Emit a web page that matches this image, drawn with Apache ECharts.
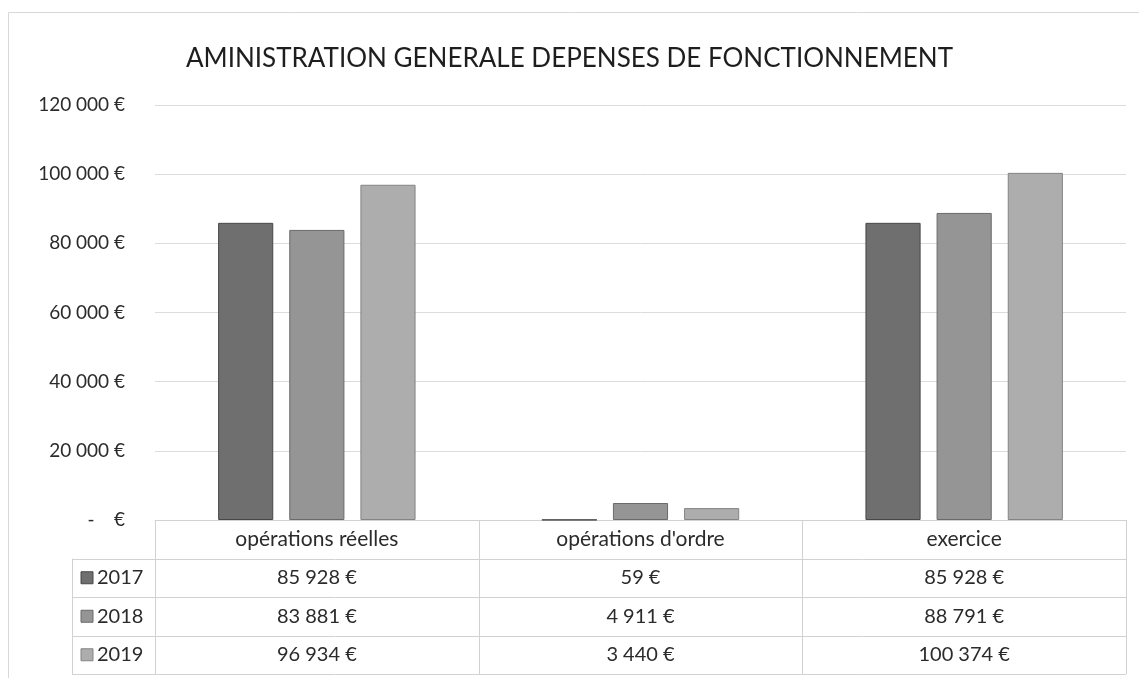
<!DOCTYPE html>
<html>
<head>
<meta charset="utf-8">
<script src="https://cdn.jsdelivr.net/npm/echarts@6/dist/echarts.min.js"></script>
<style>
  html, body { margin: 0; padding: 0; background: #fff; }
  #chart { width: 1139px; height: 678px; }
</style>
</head>
<body>
<div id="chart"></div>
<script>
// données
var categories = ['opérations réelles', "opérations d'ordre", 'exercice'];
var years = ['2017', '2018', '2019'];
var values2017 = [85928, 59, 85928];
var values2018 = [83881, 4911, 88791];
var values2019 = [96934, 3440, 100374];
var yMin = 0, yMax = 120000, yStep = 20000;

var seriesValues = [values2017, values2018, values2019];
var fills = ['#6f6f6f', '#959595', '#adadad'];
var borders = ['#474747', '#6a6a6a', '#848484'];
var font = 'Lato, "Open Sans", sans-serif';
var textColor = '#2b2b2b';
var lineColor = '#d2d2d2';

var gridLeft = 155, gridRight = 13, gridTop = 105, gridBottom = 158;
var legendLeft = 72;
var rowH = 38.5;

function euro(v) {
    if (v === 0) return '-    €';
    return String(v).replace(/\B(?=(\d{3})+(?!\d))/g, ' ') + ' €';
}

var myChart = echarts.init(document.getElementById('chart'));

var series = years.map(function (y, i) {
    return {
        name: y,
        type: 'bar',
        data: seriesValues[i],
        barGap: '29%',
        barCategoryGap: '39%',
        itemStyle: { color: fills[i], borderColor: borders[i], borderWidth: 1 },
        silent: true
    };
});

var option = {
    backgroundColor: '#fff',
    animation: false,
    title: {
        //titre
        text: 'AMINISTRATION GENERALE DEPENSES DE FONCTIONNEMENT',
        left: 'center',
        top: 41,
        textStyle: { fontFamily: font, fontSize: 26, fontWeight: 'normal', color: '#1e1e1e' }
    },
    grid: { left: gridLeft, right: gridRight, top: gridTop, bottom: gridBottom },
    xAxis: {
        type: 'category',
        data: categories,
        axisLine: { lineStyle: { color: lineColor } },
        axisTick: { show: false },
        axisLabel: { margin: 8, fontFamily: font, fontSize: 21, color: textColor, lineHeight: 22 }
    },
    yAxis: {
        type: 'value',
        min: yMin,
        max: yMax,
        interval: yStep,
        axisLine: { show: false },
        axisTick: { show: false },
        splitLine: { lineStyle: { color: '#dcdcdc' } },
        axisLabel: { margin: 30, fontFamily: font, fontSize: 19, color: textColor, formatter: euro }
    },
    series: series
};
myChart.setOption(option);

// tableau de données sous le graphique
var chartW = myChart.getWidth();
var chartH = myChart.getHeight();
var x0 = gridLeft, x3 = chartW - gridRight;
var catW = (x3 - x0) / categories.length;
var tableTop = chartH - gridBottom;
var tableBottom = tableTop + rowH * (years.length + 1);
var g = [];

function hline(y, xa, xb) {
    g.push({ type: 'line', shape: { x1: xa, y1: y, x2: xb, y2: y }, style: { stroke: lineColor, lineWidth: 1 } });
}
function vline(x, ya, yb) {
    g.push({ type: 'line', shape: { x1: x, y1: ya, x2: x, y2: yb }, style: { stroke: lineColor, lineWidth: 1 } });
}

for (var r = 1; r <= years.length + 1; r++) {
    hline(Math.round(tableTop + rowH * r) + 0.5, legendLeft, x3);
}
for (var c = 0; c <= categories.length; c++) {
    vline(Math.round(x0 + catW * c) + 0.5, tableTop, tableBottom);
}
vline(legendLeft + 0.5, tableTop + rowH, tableBottom);

years.forEach(function (y, i) {
    var cy = tableTop + rowH * (i + 1) + rowH / 2;
    g.push({ type: 'rect', shape: { x: 81, y: cy - 6, width: 12, height: 12 },
        style: { fill: fills[i], stroke: borders[i], lineWidth: 1 } });
    g.push({ type: 'text', x: 97, y: cy, style: { text: y, font: '20px ' + font, fill: textColor,
        textAlign: 'left', textVerticalAlign: 'middle' } });
    seriesValues[i].forEach(function (v, j) {
        var cx = x0 + catW * (j + 0.5);
        g.push({ type: 'text', x: cx, y: cy, style: { text: euro(v), font: '20px ' + font, fill: textColor,
            textAlign: 'center', textVerticalAlign: 'middle' } });
    });
});

// cadre extérieur
g.push({ type: 'polyline', shape: { points: [[8.5, chartH], [8.5, 12.5], [chartW, 12.5]] },
    style: { stroke: '#d8d8d8', lineWidth: 1 } });

myChart.setOption({ graphic: g });
</script>
</body>
</html>
